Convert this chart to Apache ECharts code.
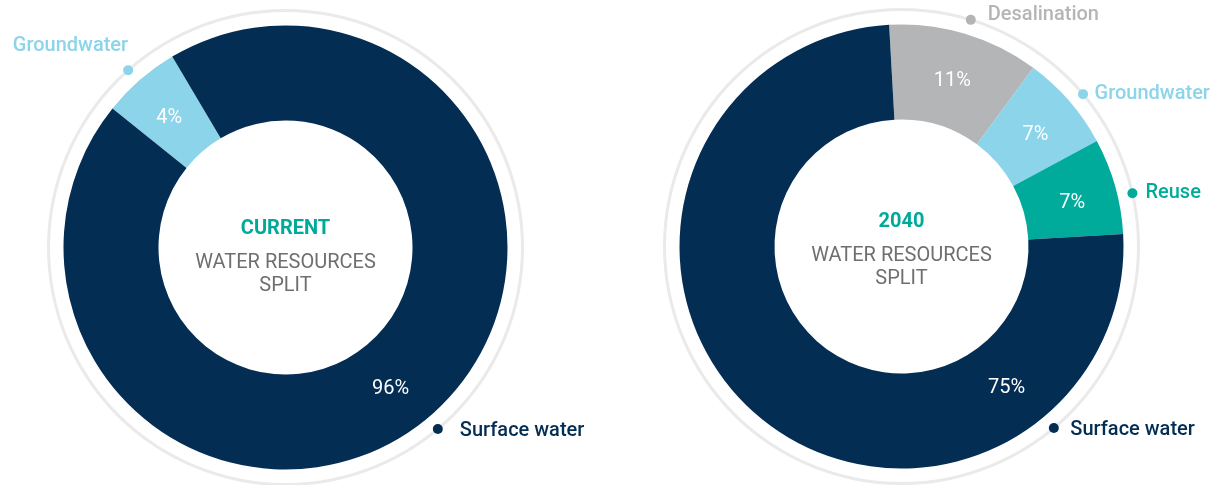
<!DOCTYPE html>
<html>
<head>
<meta charset="utf-8">
<script src="https://cdn.jsdelivr.net/npm/echarts@6/dist/echarts.min.js"></script>
<style>
html, body { margin: 0; padding: 0; background: #fff; }
#main { width: 1217px; height: 485px; }
</style>
</head>
<body>
<div id="main"></div>
<script>
// current split (slice sizes as drawn, labels as printed)
var currentNames = ['Groundwater', 'Surface water'];
var currentValues = [5.7, 94.3];
var currentLabels = ['4%', '96%'];

// 2040 split
var futureNames = ['Desalination', 'Groundwater', 'Reuse', 'Surface water'];
var futureValues = [11, 7, 7, 75];
var futureLabels = ['11%', '7%', '7%', '75%'];

var sliceColor = {
    'Surface water': '#032d53',
    'Groundwater': '#8bd4ea',
    'Desalination': '#b4b5b7',
    'Reuse': '#00ab9b'
};

var FONT = 'Roboto';
var R_IN = 127, R_OUT = 222, R_RING = 237;
var SURFACE_PCT_ANGLE = -53;    // percent label for surface water

// callout placement (angle of dot on the ring, gap from dot to text)
var donuts = [
    {
        cx: 285.5, cy: 247.5, start: 141.2,
        names: currentNames, values: currentValues, labels: currentLabels, title: 'CURRENT',
        dotAngle: { 'Groundwater': 131.6, 'Surface water': -50 },
        gap: { 'Groundwater': 9, 'Surface water': 17 },
        padTop: 8, padBottom: 0
    },
    {
        cx: 901.5, cy: 246.5, start: 93.2,
        names: futureNames, values: futureValues, labels: futureLabels, title: '2040',
        dotAngle: { 'Desalination': 73, 'Groundwater': 40, 'Reuse': 13, 'Surface water': -50 },
        gap: { 'Desalination': 12, 'Groundwater': 6.5, 'Reuse': 8, 'Surface water': 11.5 },
        padTop: 0, padBottom: 4
    }
];

function norm(a) {
    return ((a % 360) + 360) % 360;
}

var series = [];
var polar = [];
var angleAxis = [];
var radiusAxis = [];

donuts.forEach(function (d, k) {

    // thin outer ring
    series.push({
        type: 'pie',
        center: [d.cx, d.cy],
        radius: [R_RING - 1.5, R_RING + 1.5],
        silent: true,
        label: { show: false },
        labelLine: { show: false },
        emphasis: { disabled: true },
        data: [{ value: 1, itemStyle: { color: '#eaeaea' } }]
    });

    // donut slices
    series.push({
        type: 'pie',
        center: [d.cx, d.cy],
        radius: [R_IN, R_OUT],
        startAngle: d.start,
        clockwise: true,
        silent: true,
        avoidLabelOverlap: false,
        emphasis: { disabled: true },
        label: {
            show: true,
            position: 'inside',
            color: '#ffffff',
            fontSize: 20,
            fontFamily: FONT,
            formatter: function (p) { return d.labels[p.dataIndex]; }
        },
        labelLine: { show: false },
        labelLayout: function (p) {
            if (d.names[p.dataIndex] !== 'Surface water') return { dy: 5 };
            var a = SURFACE_PCT_ANGLE * Math.PI / 180;
            var r = (R_IN + R_OUT) / 2;
            return { x: d.cx + r * Math.cos(a), y: d.cy - r * Math.sin(a) + 2, align: 'center', verticalAlign: 'middle' };
        },
        itemStyle: { borderWidth: 0 },
        data: d.names.map(function (n, i) {
            return { name: n, value: d.values[i], itemStyle: { color: sliceColor[n] } };
        })
    });

    // centre text
    var txt = '{a|' + d.title + '}\n{b|WATER RESOURCES}\n{b|SPLIT}';
    if (d.padTop) txt = '{t| }\n' + txt;
    if (d.padBottom) txt = txt + '\n{u| }';
    series.push({
        type: 'pie',
        center: [d.cx, d.cy],
        radius: [0, 1],
        silent: true,
        emphasis: { disabled: true },
        itemStyle: { color: 'rgba(0,0,0,0)' },
        labelLine: { show: false },
        label: {
            show: true,
            position: 'center',
            formatter: txt,
            rich: {
                t: { fontSize: 1, lineHeight: d.padTop },
                u: { fontSize: 1, lineHeight: d.padBottom },
                a: { fontFamily: FONT, fontSize: 20, fontWeight: 'bold', color: '#00a99a', lineHeight: 46 },
                b: { fontFamily: FONT, fontSize: 20, color: '#6f6f6f', lineHeight: 23 }
            }
        },
        data: [{ value: 1, name: d.title }]
    });

    // callout dots on the ring
    polar.push({ center: [d.cx, d.cy], radius: R_RING });
    angleAxis.push({ polarIndex: k, type: 'value', min: 0, max: 360, startAngle: 0, clockwise: false, show: false });
    radiusAxis.push({ polarIndex: k, type: 'value', min: 0, max: 1, show: false });

    series.push({
        type: 'scatter',
        coordinateSystem: 'polar',
        polarIndex: k,
        symbolSize: 10,
        silent: true,
        data: d.names.map(function (n) {
            var ang = d.dotAngle[n];
            var onLeft = Math.cos(ang * Math.PI / 180) < 0;
            var lab = {
                show: true,
                formatter: n,
                fontFamily: FONT,
                fontSize: 20,
                fontWeight: 500,
                color: sliceColor[n],
                distance: d.gap[n]
            };
            if (onLeft) {
                lab.position = 'top';
                lab.align = 'right';
            } else {
                lab.position = 'right';
                if (n === 'Desalination') lab.offset = [0, -5];
                if (n === 'Surface water') lab.offset = [0, 2];
            }
            return { name: n, value: [1, norm(ang)], itemStyle: { color: sliceColor[n], opacity: 1 }, label: lab };
        })
    });
});

var chart = echarts.init(document.getElementById('main'));
chart.setOption({
    backgroundColor: '#ffffff',
    animation: false,
    polar: polar,
    angleAxis: angleAxis,
    radiusAxis: radiusAxis,
    series: series
});
</script>
</body>
</html>
